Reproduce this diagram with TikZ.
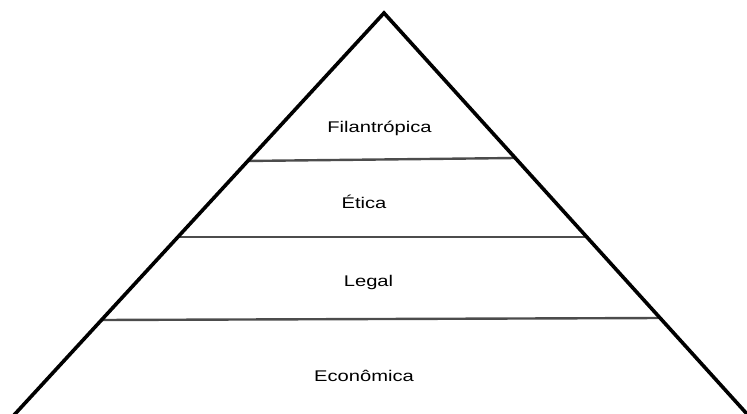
\documentclass[tikz,border=0pt]{standalone}
\usepackage{fontspec}
\setmainfont{Liberation Sans}
\usetikzlibrary{calc}
\begin{document}
\begin{tikzpicture}[x=1pt,y=-1pt,
  edge/.style={line width=3.6pt,black,line join=miter},
  level/.style={line width=2.4pt,black!70},
  lbl/.style={anchor=base,inner sep=0pt,font=\fontsize{15.5}{18}\selectfont,xscale=1.3}]
\useasboundingbox (0,0) rectangle (747,414);
\coordinate (apex) at (384,13);
\coordinate (bl) at (15,414);
\coordinate (br) at (747,414);
\begin{scope}
\clip (0,0) rectangle (747,414);
\draw[level] ($(apex)!0.369!(bl)$) -- ($(apex)!0.3616!(br)$);
\draw[level] ($(apex)!0.5586!(bl)$) -- ($(apex)!0.5586!(br)$);
\draw[level] ($(apex)!0.7656!(bl)$) -- ($(apex)!0.7606!(br)$);
\draw[edge] ($(apex)!1.05!(bl)$) -- (apex) -- ($(apex)!1.05!(br)$);
\end{scope}
\node[lbl] (fil) at (379.5,132.7) {Filantrópica};
\node[lbl] (eti) at (364,209) {Ética};
\node[lbl] (leg) at (368.5,287) {Legal};
\node[lbl] (eco) at (364,381.7) {Econômica};
\end{tikzpicture}
\end{document}
